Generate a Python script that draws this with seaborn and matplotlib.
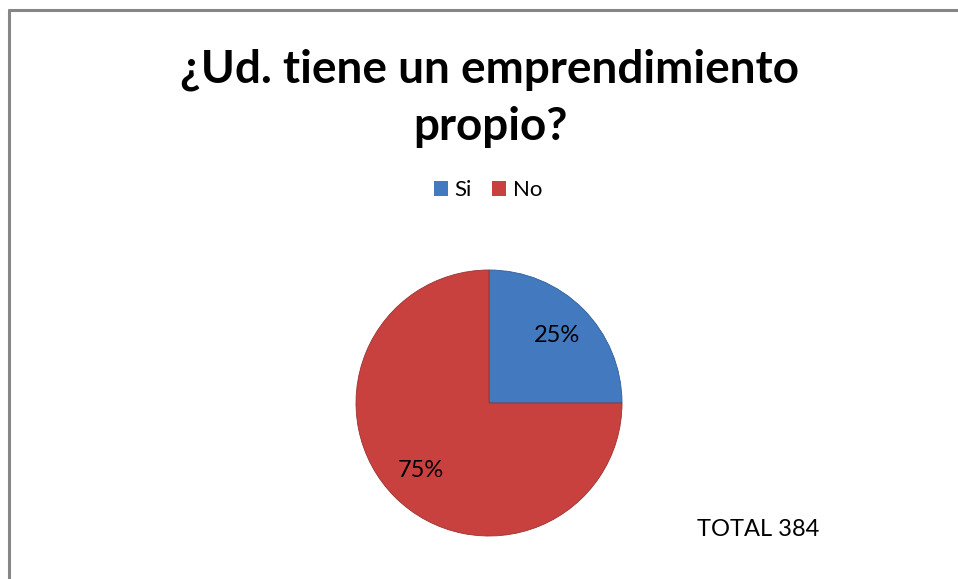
import matplotlib
matplotlib.use('Agg')
import matplotlib.pyplot as plt
import seaborn as sns
from matplotlib.lines import Line2D

# data
categories = ['Si', 'No']
shares = [25, 75]
colors = ['#4379bf', '#c8413f']
title_text = '¿Ud. tiene un emprendimiento\npropio?'
total_text = 'TOTAL 384'

sns.set_style('white')
plt.rcParams['font.family'] = ['Lato', 'DejaVu Sans']
plt.rcParams['text.color'] = 'black'

W, H = 958, 579
fig = plt.figure(figsize=(W / 100, H / 100), dpi=100)

# frame of the chart area (only top and left edges visible)
fig.add_artist(Line2D([8.5 / W, 8.5 / W], [0, 1 - 9.5 / H], color='#868686', lw=2.2))
fig.add_artist(Line2D([8.5 / W, 1], [1 - 9.5 / H, 1 - 9.5 / H], color='#868686', lw=2.2))

fig.text(490 / W, 1 - 98 / H, title_text, ha='center', va='center',
         fontsize=33, fontweight='bold', linespacing=1.44, color='black')

# pie
cx, cy, r = 489, 403, 133
ax = fig.add_axes([(cx - r) / W, (H - cy - r) / H, 2 * r / W, 2 * r / H])
wedges, texts, autotexts = ax.pie(
    shares, colors=colors, startangle=90, counterclock=False,
    autopct='%1.0f%%', pctdistance=0.72,
    wedgeprops=dict(edgecolor='#9a3230', linewidth=0.6),
    textprops=dict(fontsize=17, color='black'))
wedges[0].set_edgecolor('#2f5f99')
ax.set_xlim(-1.0, 1.0)
ax.set_ylim(-1.0, 1.0)
ax.set_aspect('equal')

# legend
handles = [plt.Rectangle((0, 0), 1, 1, facecolor=c, edgecolor='none') for c in colors]
fig.legend(handles, categories, loc='center', bbox_to_anchor=(488 / W, 1 - 190 / H),
           ncol=2, frameon=False, fontsize=16, handlelength=0.65, handleheight=0.65,
           handletextpad=0.3, columnspacing=0.9)

fig.text(758 / W, 1 - 529 / H, total_text, ha='center', va='center', fontsize=17,
         color='black')

fig.savefig('out.png', dpi=100)
